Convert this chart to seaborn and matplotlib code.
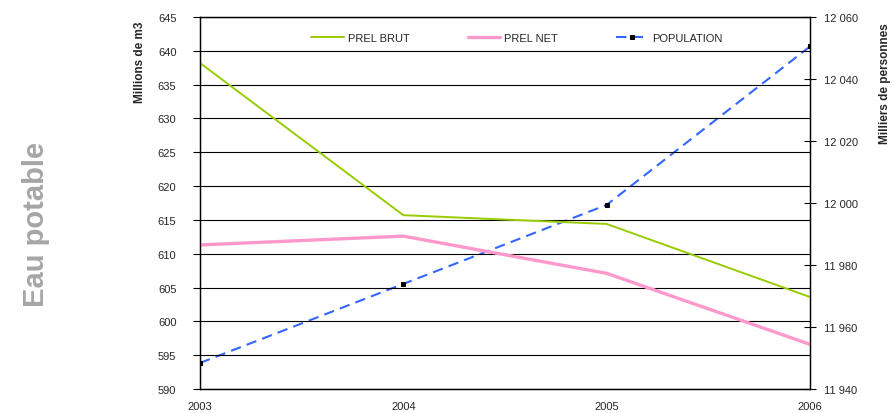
import matplotlib
matplotlib.use("Agg")
import matplotlib.pyplot as plt
import matplotlib.ticker as mtick
import seaborn as sns
import pandas as pd

# --- DATA ---
years = [2003, 2004, 2005, 2006]
prel_brut = [638.2, 615.7, 614.4, 603.6]
prel_net = [611.3, 612.6, 607.1, 596.6]
population = [11948.4, 11973.9, 11999.4, 12050.5]

COLOR_BRUT = "#99cc00"
COLOR_NET = "#ff99cc"
COLOR_POP = "#3366ff"

sns.set_theme(style="white")
plt.rcParams['font.family'] = ['Liberation Sans', 'DejaVu Sans']

df = pd.DataFrame({"year": years, "brut": prel_brut, "net": prel_net, "pop": population})

fig = plt.figure(figsize=(8.93, 4.14), dpi=100)
ax = fig.add_axes([200 / 893, 24 / 414, 610 / 893, 372 / 414])
ax2 = ax.twinx()

sns.lineplot(data=df, x="year", y="brut", ax=ax, color=COLOR_BRUT, linewidth=1.4, label="PREL BRUT", legend=False)
sns.lineplot(data=df, x="year", y="net", ax=ax, color=COLOR_NET, linewidth=2.4, label="PREL NET", legend=False)
sns.lineplot(data=df, x="year", y="pop", ax=ax2, color=COLOR_POP, linewidth=1.5,
             linestyle=(0, (5, 3)), marker="s", markersize=2.8, markerfacecolor="black",
             markeredgecolor="black", label="POPULATION", legend=False)

# left axis
ax.set_xlim(2003, 2006)
ax.set_ylim(590, 645)
ax.set_yticks(range(590, 646, 5))
ax.set_xticks(years)
ax.set_xticklabels([str(y) for y in years])
ax.yaxis.grid(True, color="black", linewidth=0.8)
ax.xaxis.grid(False)
ax.set_xlabel("")
ax.set_ylabel("Millions de m3", fontsize=8.5, fontweight="bold", loc="top")
ax.yaxis.set_label_coords(-54 / 610, 0.99)
ax.tick_params(axis="y", direction="out", length=5, width=0.8, color="black", labelsize=8, pad=12)
ax.tick_params(axis="x", direction="out", length=5, width=0.8, color="black", labelsize=8, pad=4)
ax.set_zorder(ax2.get_zorder() + 1)
ax.patch.set_visible(False)

# right axis
ax2.set_ylim(11940, 12060)
ax2.set_yticks(range(11940, 12061, 20))
ax2.yaxis.set_major_formatter(mtick.FuncFormatter(lambda v, p: f"{int(v):,}".replace(",", " ")))
ax2.set_ylabel("Milliers de personnes", fontsize=8.5, fontweight="bold", loc="top")
ax2.yaxis.set_label_coords(1 + 69 / 610, 0.985)
ax2.tick_params(axis="y", direction="inout", length=8, width=0.8, color="black", labelsize=8, pad=6)

for a in (ax, ax2):
    for s in a.spines.values():
        s.set_color("black")
        s.set_linewidth(0.9)

handles = ax.get_lines()[:2] + ax2.get_lines()[:1]
ax.legend(handles, ["PREL BRUT", "PREL NET", "POPULATION"], loc="upper center",
          bbox_to_anchor=(0.52, 0.985), ncol=3, frameon=False, fontsize=8,
          handlelength=2.9, columnspacing=5.2, handletextpad=0.4)

fig.text(36 / 893, 1 - 224 / 414, "Eau potable", rotation=90, ha="center", va="center",
         fontsize=21, fontweight="bold", color="#a6a6a6")

fig.savefig("out.png", dpi=100)
